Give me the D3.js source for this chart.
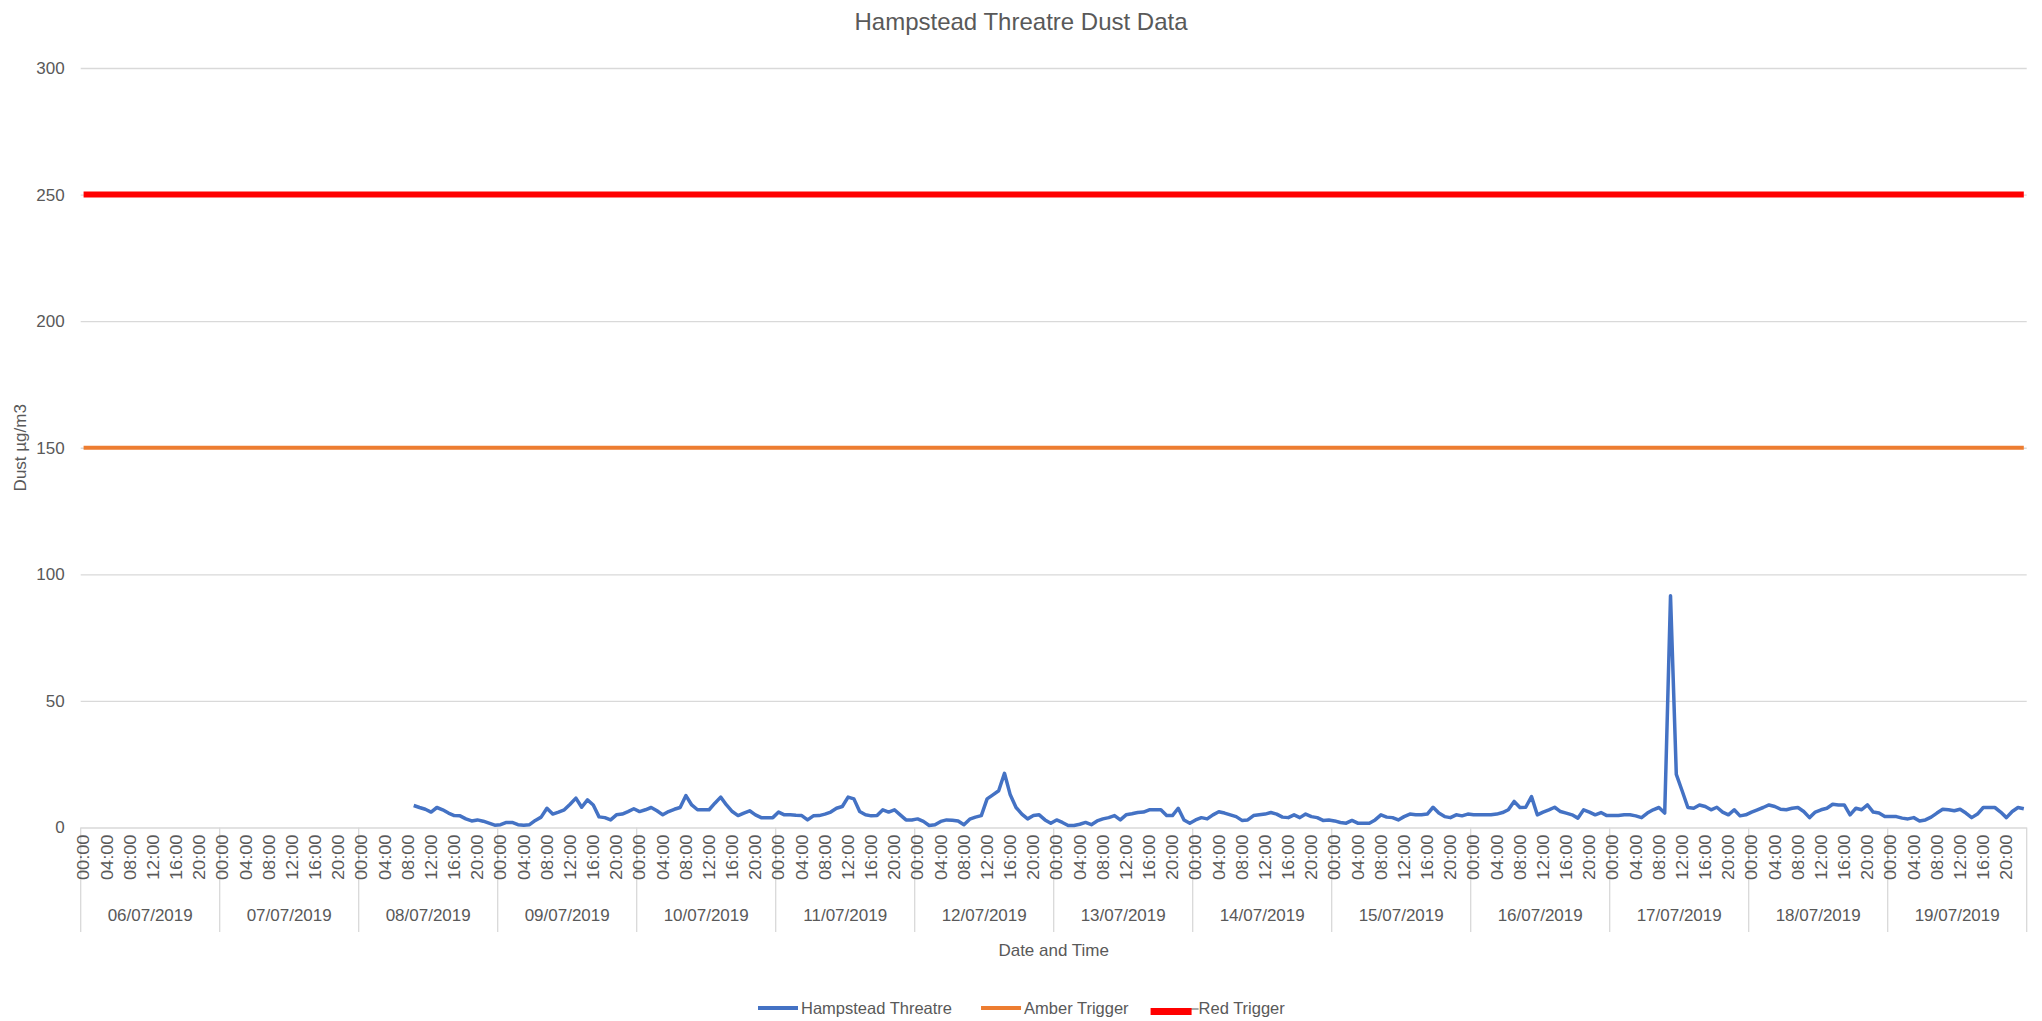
<!DOCTYPE html>
<html><head><meta charset="utf-8">
<script src="https://cdn.jsdelivr.net/npm/d3@7"></script>
<style>
body{margin:0;background:#fff;}
text{font-family:"Liberation Sans",Arial,sans-serif;fill:#595959;}
</style>
</head><body>
<svg id="chart" width="2042" height="1021"></svg>
<script>
// ---------- data ----------
const days = ["06/07/2019","07/07/2019","08/07/2019","09/07/2019","10/07/2019","11/07/2019","12/07/2019",
              "13/07/2019","14/07/2019","15/07/2019","16/07/2019","17/07/2019","18/07/2019","19/07/2019"];
const hours = ["00:00","01:00","02:00","03:00","04:00","05:00","06:00","07:00","08:00","09:00","10:00","11:00",
               "12:00","13:00","14:00","15:00","16:00","17:00","18:00","19:00","20:00","21:00","22:00","23:00"];
const tickHours = ["00:00","04:00","08:00","12:00","16:00","20:00"];
const yTicks = [0,50,100,150,200,250,300];
const dustStartDay = "08/07/2019";
const dustStartHour = "09:00";
// hourly dust readings (µg/m3) from 08/07/2019 09:00 to 19/07/2019 23:00
const dust = [
  8.7,7.9,7.2,6.1,7.9,7.0,5.7,4.7,4.6,3.4,2.6,3.0,2.5,1.7,0.9,
  1.1,2.0,2.0,1.1,0.9,1.1,2.8,4.1,7.6,5.3,6.1,7.0,9.2,11.6,8.0,10.9,8.9,4.2,3.9,3.0,5.0,5.3,6.3,7.4,
  6.3,7.0,7.9,6.6,5.0,6.3,7.2,7.9,12.6,8.9,7.0,7.0,7.0,9.6,12.0,8.9,6.3,4.7,5.7,6.6,5.0,3.9,3.9,3.9,
  6.1,5.0,5.0,4.8,4.7,3.0,4.6,4.7,5.3,6.1,7.6,8.3,12.0,11.3,6.3,5.0,4.6,4.7,7.0,6.1,7.0,5.0,3.0,3.0,
  3.4,2.4,0.8,1.1,2.4,3.0,2.9,2.6,1.1,3.3,4.1,4.7,11.3,12.9,14.5,21.4,12.9,7.9,5.3,3.4,4.7,5.0,3.0,1.7,
  3.0,2.0,0.8,0.8,1.3,2.0,1.1,2.6,3.4,3.9,4.7,3.0,5.0,5.4,5.9,6.1,7.0,7.0,7.0,4.7,4.7,7.6,3.0,1.7,
  3.0,3.9,3.4,5.0,6.2,5.7,5.0,4.3,2.8,3.0,4.7,5.0,5.3,5.9,5.3,4.1,3.9,5.0,3.9,5.3,4.3,3.9,2.8,3.0,
  2.6,2.0,1.7,2.8,1.7,1.7,1.7,3.0,5.0,4.1,3.9,3.0,4.3,5.3,5.0,5.0,5.3,8.0,5.7,4.3,3.9,5.0,4.6,5.3,
  5.0,5.0,5.0,5.0,5.3,5.9,7.0,10.3,7.9,8.0,12.2,5.0,6.1,7.0,8.0,6.3,5.7,5.0,3.7,7.0,6.1,5.0,5.9,4.7,
  4.7,4.7,5.0,5.0,4.6,3.9,5.7,7.0,7.9,5.7,91.5,21.0,14.5,7.9,7.6,8.9,8.3,7.0,8.0,6.1,5.0,7.0,4.6,5.0,
  6.1,7.0,7.9,8.9,8.3,7.2,7.0,7.6,7.9,6.3,3.9,6.1,7.0,7.6,9.2,8.9,8.9,5.0,7.6,7.0,8.9,6.1,5.7,4.3,
  4.3,4.3,3.7,3.4,3.9,2.6,3.0,4.1,5.7,7.2,7.0,6.6,7.2,5.7,3.9,5.3,7.9,7.9,7.9,6.1,3.9,6.3,7.9,7.4
];
const amberTrigger = 150;
const redTrigger = 250;
const seriesNames = ["Hampstead Threatre","Amber Trigger","Red Trigger"];
const seriesColors = ["#4472C4","#ED7D31","#FF0000"];

// ---------- layout ----------
const svg = d3.select("#chart");
const X0 = 80.7, X1 = 2026.7, Y0 = 827.5, Y1 = 68;
const gridColor = "#d9d9d9";

const categories = days.flatMap(d => hours.map(h => d + " " + h));
const x = d3.scaleBand().domain(categories).range([X0, X1]);
const xd = d3.scaleBand().domain(days).range([X0, X1]);
const y = d3.scaleLinear().domain([0, 300]).range([Y0, Y1]);
const cx = c => x(c) + x.bandwidth() / 2;

// gridlines + y labels via axis
const yAxis = d3.axisLeft(y).tickValues(yTicks).tickSize(-(X1 - X0)).tickPadding(16);
const gy = svg.append("g").attr("transform", `translate(${X0},0)`).call(yAxis);
gy.select(".domain").remove();
gy.selectAll(".tick line").attr("stroke", gridColor).attr("stroke-width", 1.3);
gy.selectAll(".tick text").attr("font-size", 17).attr("fill", "#595959")
  .style("font-family", '"Liberation Sans",Arial,sans-serif');

// day separators
const bounds = days.map(d => xd(d)).concat([X1]);
svg.append("g").selectAll("line").data(bounds).join("line")
  .attr("x1", d => d).attr("x2", d => d).attr("y1", Y0).attr("y2", 932)
  .attr("stroke", gridColor).attr("stroke-width", 1.3);

// time labels (rotated)
const tickCats = categories.filter(c => tickHours.includes(c.split(" ")[1]));
svg.append("g").selectAll("text").data(tickCats).join("text")
  .attr("transform", c => `translate(${cx(c)},${Y0 + 7}) rotate(-90) scale(1.14,1)`)
  .attr("text-anchor", "end").attr("dy", "0.36em").attr("font-size", 16)
  .text(c => c.split(" ")[1]);

// date labels
svg.append("g").selectAll("text").data(days).join("text")
  .attr("x", d => xd(d) + xd.bandwidth() / 2).attr("y", 921)
  .attr("text-anchor", "middle").attr("font-size", 17).text(d => d);

// axis titles
svg.append("text").attr("x", (X0 + X1) / 2).attr("y", 956).attr("text-anchor", "middle")
  .attr("font-size", 17).text("Date and Time");
svg.append("text").attr("transform", `translate(26,${(Y0 + Y1) / 2}) rotate(-90)`)
  .attr("text-anchor", "middle").attr("font-size", 17).text("Dust µg/m3");

// title
svg.append("text").attr("x", 1021).attr("y", 30).attr("text-anchor", "middle")
  .attr("font-size", 24).attr("fill", "#5f5f5f").text("Hampstead Threatre Dust Data");

// series
const startIdx = categories.indexOf(dustStartDay + " " + dustStartHour);
const dustPts = dust.map((v, i) => ({c: categories[startIdx + i], v}));
const line = d3.line().x(d => cx(d.c)).y(d => y(d.v));

svg.append("path").datum(dustPts).attr("d", line).attr("fill", "none")
  .attr("stroke", seriesColors[0]).attr("stroke-width", 3.5).attr("stroke-linejoin", "round");
svg.append("path").datum(categories.map(c => ({c, v: amberTrigger}))).attr("d", line).attr("fill", "none")
  .attr("stroke", seriesColors[1]).attr("stroke-width", 4);
svg.append("path").datum(categories.map(c => ({c, v: redTrigger}))).attr("d", line).attr("fill", "none")
  .attr("stroke", seriesColors[2]).attr("stroke-width", 6);

// legend
const leg = svg.append("g");
const ly = 1008;
let lx = 758;
seriesNames.forEach((name, i) => {
  let tx;
  if (i < 2) {
    leg.append("line").attr("x1", lx).attr("x2", lx + 40).attr("y1", ly).attr("y2", ly)
      .attr("stroke", seriesColors[i]).attr("stroke-width", 4);
    tx = lx + 43;
  } else {
    leg.append("line").attr("x1", lx + 38).attr("x2", lx + 48).attr("y1", ly + 1).attr("y2", ly + 1)
      .attr("stroke", "#8c8c8c").attr("stroke-width", 1.5);
    leg.append("rect").attr("x", lx).attr("y", ly).attr("width", 41).attr("height", 7)
      .attr("fill", seriesColors[i]);
    tx = lx + 48;
  }
  const t = leg.append("text").attr("x", tx).attr("y", ly + 6).attr("font-size", 16.5).text(name);
  lx = tx + t.node().getComputedTextLength() + (i === 0 ? 29 : 22);
});
</script>
</body></html>
